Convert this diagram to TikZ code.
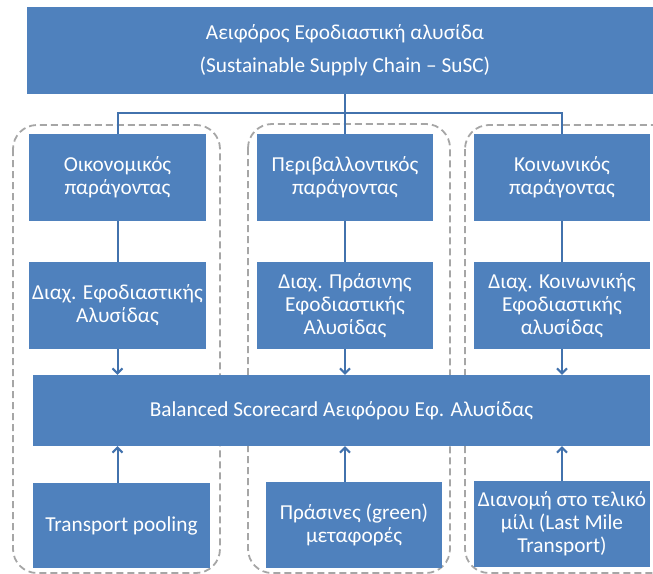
\documentclass[tikz,border=0pt]{standalone}
\usepackage{fontspec}
\setmainfont{Carlito}
\usetikzlibrary{arrows.meta}
\definecolor{boxblue}{HTML}{4F81BD}
\definecolor{linkblue}{HTML}{4272AD}
\definecolor{framegray}{HTML}{A6A6A6}
\tikzset{
  blk/.style={fill=boxblue,text=white,inner sep=0pt,align=center,
    minimum width=176pt,minimum height=87pt,font=\fontsize{21.3}{23}\selectfont},
  conn/.style={linkblue,line width=2pt},
  grpframe/.style={framegray,line width=1.8pt,dash pattern=on 7pt off 4pt,rounded corners=24pt},
}
\begin{document}
\begin{tikzpicture}[x=1pt,y=-1pt,>={Straight Barb[length=5pt,width=10pt]}]
      \useasboundingbox (0,0) rectangle (653,573);
      \clip (0,0) rectangle (653,573);
      % dashed groups behind the boxes
      \draw[grpframe] (13,125) rectangle (220,573);
      \draw[grpframe] (248,124) rectangle (450,573);
      \draw[grpframe] (465,125) rectangle (680,573);
      \node[blk,minimum width=636pt] (susc) at (345,50.5)
        {Αειφόρος Εφοδιαστική αλυσίδα\\[10pt](Sustainable Supply Chain – SuSC)};
      \node[blk,minimum width=177pt] (eco) at (117.5,177.5) {Οικονομικός\\παράγοντας};
      \node[blk] (env) at (345,177.5) {Περιβαλλοντικός\\παράγοντας};
      \node[blk] (soc) at (562,177.5) {Κοινωνικός\\παράγοντας};
      \node[blk,minimum width=177pt] (ecoM) at (117.5,305.5) {Διαχ. Εφοδιαστικής\\Αλυσίδας};
      \node[blk] (envM) at (345,305.5) {Διαχ. Πράσινης\\Εφοδιαστικής\\Αλυσίδας};
      \node[blk] (socM) at (562,305.5) {Διαχ. Κοινωνικής\\Εφοδιαστικής\\αλυσίδας};
      \node[blk,minimum width=617pt,minimum height=71pt] (bsc) at (341.5,410.5)
        {Balanced Scorecard Αειφόρου Εφ. Αλυσίδας};
      \node[blk,minimum width=177pt,minimum height=85pt] (pool) at (121.5,525.5) {Transport pooling};
      \node[blk,minimum height=86pt] (green) at (354,525) {Πράσινες (green)\\μεταφορές};
      \node[blk,minimum height=86pt] (last) at (562,524) {Διανομή στο τελικό\\μίλι (Last Mile\\Transport)};
      % tree from the top box
      \coordinate (bus) at (345,113);
      \draw[conn] (susc.south) -- (bus);
      \draw[conn] (eco.north) |- (bus) -| (soc.north);
      \draw[conn] (env.north) -- (bus);
      \draw[conn] (eco) -- (ecoM);
      \draw[conn] (env) -- (envM);
      \draw[conn] (soc) -- (socM);
      \draw[conn,->] (ecoM.south) -- (ecoM.south |- bsc.north);
      \draw[conn,->] (envM.south) -- (envM.south |- bsc.north);
      \draw[conn,->] (socM.south) -- (socM.south |- bsc.north);
      \draw[conn,->] (pool.north -| eco) -- (bsc.south -| eco);
      \draw[conn,->] (green.north -| env) -- (bsc.south -| env);
      \draw[conn,->] (last.north -| soc) -- (bsc.south -| soc);
    \end{tikzpicture}
\end{document}
